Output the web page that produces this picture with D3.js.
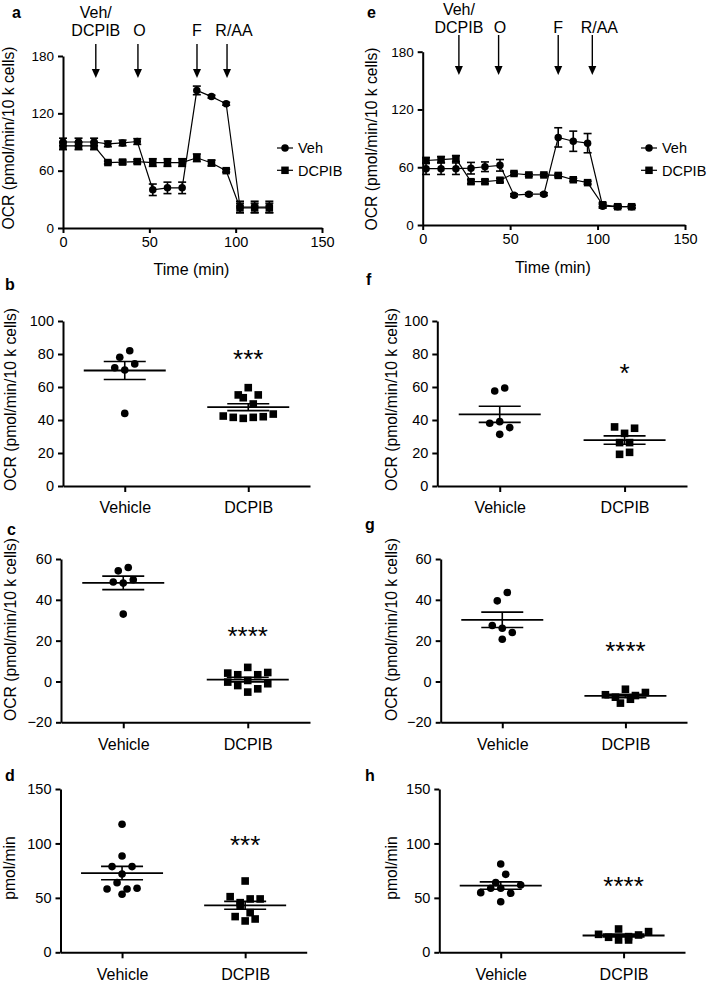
<!DOCTYPE html>
<html><head><meta charset="utf-8">
<script src="https://cdnjs.cloudflare.com/ajax/libs/d3/7.8.5/d3.min.js"></script>
<style>
body{margin:0;background:#fff;}
svg text{font-family:"Liberation Sans",Arial,Helvetica,sans-serif;fill:#000;}
</style></head>
<body><svg id="chart" width="709" height="986"></svg>
<script>
// ---------------- DATA ----------------
const timeTicks = [0, 50, 100, 150];
const ocrTicksTime = [0, 60, 120, 180];
const injLabels = [["Veh/", "DCPIB"], ["O"], ["F"], ["R/AA"]];
const seriesNames = ["Veh", "DCPIB"];

// panel a
const timeA = [0, 9, 18, 26, 34.5, 43, 52, 60.5, 69, 77.5, 86, 94.5, 102.5, 111, 119.5];
const vehA = [90, 90, 90, 88, 89, 90.5, 40, 42, 42, 144, 137.5, 130, 22, 22, 22];
const vehAErr = [4, 4, 4, 3, 3, 3, 6, 6, 6, 4.5, 1.5, 1.5, 6, 6, 6];
const dcpibA = [86, 86, 86, 68.5, 69, 69.5, 68.5, 68.5, 68.5, 73.5, 68, 60, 21, 21, 21];
const dcpibAErr = [4, 4, 4, 1.5, 2, 2, 4, 4, 4, 4, 3, 1.5, 5, 5, 5];
const injTimeA = [19, 43.4, 77.6, 95];

// panel e
const timeE = [1.9, 10.5, 19, 27.6, 35.6, 44.2, 52.2, 60.7, 69.3, 77.5, 86.1, 94.3, 102.9, 111.5, 119.5];
const vehE = [58.5, 58.5, 58.5, 59, 60.5, 62, 31, 32, 32, 91, 87, 85, 19.5, 19, 19];
const vehEErr = [6, 6, 6, 6, 5, 6, 1.5, 1.5, 1.5, 10, 10.5, 10, 2, 1.5, 1.5];
const dcpibE = [67, 68, 69, 45, 45, 46.5, 53.5, 52, 52, 51.5, 47, 44, 21, 19, 19];
const dcpibEErr = [3, 3, 3, 2, 2, 2, 1.5, 1.5, 1.5, 1.5, 1.5, 1.5, 2, 1.5, 1.5];
const injTimeE = [20.7, 43.4, 77.5, 97];

// scatter panels
const groups = ["Vehicle", "DCPIB"];
const ticksOCR100 = [0, 20, 40, 60, 80, 100];
const ticksOCR60 = [-20, 0, 20, 40, 60];
const ticksPmol = [0, 50, 100, 150];

const vehB = [71.7, 78, 70.3, 44, 82, 74];
const dcpibB = [42.4, 55.2, 41.6, 53.5, 41, 59.6, 49.7, 41.6, 55.2, 42, 43.6];
const sigB = "***", sigBAt = 80.4;

const vehF = [38, 57.6, 39, 31.3, 59.4, 35.4];
const dcpibF = [35.8, 26.3, 19.2, 31.9, 26.3, 20.4, 35];
const sigF = "*", sigFAt = 72.3;

const vehC = [48.7, 54.2, 48.2, 33, 55.8, 49.8];
const dcpibC = [4.1, -0.3, 3.3, -2, 6.9, 0.5, -5.2, 3.3, -3.6, 4.4, -1.1];
const sigC = "****", sigCAt = 25.3;

const vehG = [39.5, 27.4, 20.7, 43.6, 26.1, 24];
const dcpibG = [-6.5, -7.7, -10.6, -3.8, -8.7, -6.9, -5.4];
const sigG = "****", sigGAt = 18;

const vehD = [58.2, 78.7, 71.9, 53.3, 117.6, 88.5, 78.7, 64, 58.2, 58.8];
const dcpibD = [32.8, 51.1, 45.6, 28.8, 65.5, 49, 42.9, 30.6, 49, 36.4];
const sigD = "***", sigDAt = 104;

const vehH = [64, 54.8, 58.8, 81.1, 71.6, 46.5, 58.8, 54.2, 61.8];
const dcpibH = [16.5, 13.8, 11.3, 21.4, 11.3, 14.4, 15.9, 19];
const sigH = "****", sigHAt = 66.4;

// ---------------- DRAWING ----------------
const FS = 16;        // axis titles, category labels
const FS_NUM = 14.5;  // numeric tick labels
const FS_LEG = 14.5;  // legend
const svg = d3.select("#chart");

function styleAxis(fs) {
  return function(sel) {
    sel.attr("font-family", null).attr("font-size", null);
    sel.select(".domain").attr("stroke", "#000").attr("stroke-width", 2);
    sel.selectAll(".tick line").attr("stroke", "#000").attr("stroke-width", 2);
    sel.selectAll(".tick text").attr("font-size", fs).attr("fill", "#000");
  };
}

function marker(g, shape, cx, cy, size) {
  if (shape === "circle") {
    g.append("circle").attr("cx", cx).attr("cy", cy).attr("r", size / 2).attr("fill", "#000");
  } else {
    g.append("rect").attr("x", cx - size / 2).attr("y", cy - size / 2)
      .attr("width", size).attr("height", size).attr("fill", "#000");
  }
}

function panelLetter(t, x, y) {
  svg.append("text").attr("x", x).attr("y", y).attr("font-size", 16)
    .attr("font-weight", "bold").text(t);
}

function yLabel(t, bx, cy) {
  svg.append("text").attr("transform", `translate(${bx},${cy}) rotate(-90)`)
    .attr("text-anchor", "middle").attr("font-size", 15.7).text(t);
}

function drawTime(c) {
  const x = d3.scaleLinear().domain([0, 150]).range([c.x0, c.x1]);
  const y = d3.scaleLinear().domain([0, 180]).range([c.y0, c.y1]);
  const g = svg.append("g");
  g.append("g").attr("transform", `translate(0,${c.y0})`)
    .call(d3.axisBottom(x).tickValues(timeTicks).tickSize(5).tickPadding(4).tickSizeOuter(0))
    .call(styleAxis(FS_NUM));
  g.append("g").attr("transform", `translate(${c.x0},0)`)
    .call(d3.axisLeft(y).tickValues(ocrTicksTime).tickSize(5).tickPadding(4).tickSizeOuter(0))
    .call(styleAxis(13.5));
  const series = [
    {vals: c.dc, err: c.dcErr, shape: "square"},
    {vals: c.veh, err: c.vehErr, shape: "circle"}
  ];
  const line = d3.line().x((d, i) => x(c.time[i])).y(d => y(d));
  series.forEach(s => {
    g.append("path").attr("d", line(s.vals)).attr("fill", "none")
      .attr("stroke", "#000").attr("stroke-width", 1.2);
  });
  series.forEach(s => {
    s.vals.forEach((v, i) => {
      const cx = x(c.time[i]);
      const yt = y(v + s.err[i]), yb = y(v - s.err[i]);
      g.append("line").attr("x1", cx).attr("x2", cx).attr("y1", yt).attr("y2", yb)
        .attr("stroke", "#000").attr("stroke-width", 1.6);
      [yt, yb].forEach(yy => g.append("line").attr("x1", cx - 4).attr("x2", cx + 4)
        .attr("y1", yy).attr("y2", yy).attr("stroke", "#000").attr("stroke-width", 1.6));
      marker(g, s.shape, cx, y(v), 7.5);
    });
  });
  // injection arrows
  c.inj.forEach((t, i) => {
    const ax = x(t);
    g.append("line").attr("x1", ax).attr("x2", ax).attr("y1", c.arrTop).attr("y2", c.arrTip - 6)
      .attr("stroke", "#000").attr("stroke-width", 1.4);
    g.append("path").attr("d", `M${ax - 4},${c.arrTip - 9}L${ax + 4},${c.arrTip - 9}L${ax},${c.arrTip}Z`)
      .attr("fill", "#000");
    const lab = injLabels[i];
    const dx = lab[0] === "R/AA" ? 7 : (lab[0] === "O" ? 1.5 : 0);
    lab.forEach((l, k) => {
      const by = c.labBase - (lab.length - 1 - k) * 18.3;
      g.append("text").attr("x", ax + dx).attr("y", by).attr("text-anchor", "middle")
        .attr("font-size", FS).text(l);
    });
  });
  // legend
  seriesNames.forEach((n, i) => {
    const ly = c.legY + i * 22.3;
    g.append("line").attr("x1", c.legX).attr("x2", c.legX + 16).attr("y1", ly).attr("y2", ly)
      .attr("stroke", "#000").attr("stroke-width", 1.2);
    marker(g, i === 0 ? "circle" : "square", c.legX + 8, ly, 7.5);
    g.append("text").attr("x", c.legX + 21).attr("y", ly + 5.2).attr("font-size", FS_LEG).text(n);
  });
  g.append("text").attr("x", (c.x0 + c.x1) / 2 - 1).attr("y", c.xlabY)
    .attr("text-anchor", "middle").attr("font-size", FS).text("Time (min)");
}

// group points into horizontal rows (pixel-based), spread each row around the category centre
function layoutRows(vals, y, rowH, step) {
  const idx = vals.map((v, i) => i).sort((a, b) => vals[b] - vals[a]);
  const rows = [];
  let cur = null;
  idx.forEach(i => {
    if (cur && (y(vals[i]) - y(vals[cur[0]])) <= rowH) cur.push(i);
    else { cur = [i]; rows.push(cur); }
  });
  const off = new Array(vals.length).fill(0);
  rows.forEach(r => {
    r.sort((a, b) => a - b);
    r.forEach((i, k) => { off[i] = (k - (r.length - 1) / 2) * step; });
  });
  return off;
}

function drawScatter(c) {
  const x = d3.scalePoint().domain(groups).range([c.x0, c.x1]).padding(0.5);
  const y = d3.scaleLinear().domain(c.dom).range([c.y0, c.y1]);
  const g = svg.append("g");
  g.append("g").attr("transform", `translate(0,${c.y0})`)
    .call(d3.axisBottom(x).tickSize(6).tickPadding(10).tickSizeOuter(0))
    .call(styleAxis(FS));
  g.append("g").attr("transform", `translate(${c.x0},0)`)
    .call(d3.axisLeft(y).tickValues(c.ticks).tickSize(5).tickPadding(4).tickSizeOuter(0))
    .call(styleAxis(FS_NUM));
  [c.veh, c.dc].forEach((vals, gi) => {
    const cx = x(groups[gi]);
    const off = layoutRows(vals, y, 8.5, 10);
    vals.forEach((v, i) => marker(g, gi === 0 ? "circle" : "square", cx + off[i], y(v), 7.6));
    const m = d3.mean(vals);
    const sem = d3.deviation(vals) / Math.sqrt(vals.length);
    g.append("line").attr("x1", cx - 41).attr("x2", cx + 41).attr("y1", y(m)).attr("y2", y(m))
      .attr("stroke", "#000").attr("stroke-width", 1.8);
    [m + sem, m - sem].forEach(v => g.append("line").attr("x1", cx - 21).attr("x2", cx + 21)
      .attr("y1", y(v)).attr("y2", y(v)).attr("stroke", "#000").attr("stroke-width", 1.6));
    g.append("line").attr("x1", cx).attr("x2", cx).attr("y1", y(m + sem)).attr("y2", y(m - sem))
      .attr("stroke", "#000").attr("stroke-width", 1.6);
  });
  g.append("text").attr("x", x(groups[1])).attr("y", y(c.sigAt) + 0.57 * 26)
    .attr("text-anchor", "middle").attr("font-size", 26).text(c.sig);
}

// panel a & e
drawTime({x0: 63, x1: 322, y0: 228, y1: 56, time: timeA, veh: vehA, vehErr: vehAErr,
  dc: dcpibA, dcErr: dcpibAErr, inj: injTimeA, arrTop: 44, arrTip: 78, labBase: 36,
  legX: 277, legY: 148, xlabY: 275});
drawTime({x0: 422.7, x1: 685, y0: 225, y1: 51.7, time: timeE, veh: vehE, vehErr: vehEErr,
  dc: dcpibE, dcErr: dcpibEErr, inj: injTimeE, arrTop: 35, arrTip: 75, labBase: 33.3,
  legX: 641, legY: 148, xlabY: 272.5});

drawScatter({x0: 63, x1: 310, y0: 486, y1: 321, dom: [0, 100], ticks: ticksOCR100,
  veh: vehB, dc: dcpibB, sig: sigB, sigAt: sigBAt});
drawScatter({x0: 437.3, x1: 687, y0: 486, y1: 321, dom: [0, 100], ticks: ticksOCR100,
  veh: vehF, dc: dcpibF, sig: sigF, sigAt: sigFAt});
drawScatter({x0: 61, x1: 310, y0: 722.3, y1: 559, dom: [-20, 60], ticks: ticksOCR60,
  veh: vehC, dc: dcpibC, sig: sigC, sigAt: sigCAt});
drawScatter({x0: 440.7, x1: 687, y0: 722.3, y1: 559, dom: [-20, 60], ticks: ticksOCR60,
  veh: vehG, dc: dcpibG, sig: sigG, sigAt: sigGAt});
drawScatter({x0: 60.5, x1: 306.7, y0: 952.3, y1: 789, dom: [0, 150], ticks: ticksPmol,
  veh: vehD, dc: dcpibD, sig: sigD, sigAt: sigDAt});
drawScatter({x0: 439.3, x1: 685, y0: 952.3, y1: 789, dom: [0, 150], ticks: ticksPmol,
  veh: vehH, dc: dcpibH, sig: sigH, sigAt: sigHAt});

// labels
const ocrLabel = "OCR (pmol/min/10 k cells)";
yLabel(ocrLabel, 14, 138);
yLabel(ocrLabel, 377, 139);
yLabel(ocrLabel, 15.5, 399.5);
yLabel(ocrLabel, 397, 399.5);
yLabel(ocrLabel, 15.5, 629.5);
yLabel(ocrLabel, 397, 629.5);
yLabel("pmol/min", 14.5, 868);
yLabel("pmol/min", 396.5, 868);

panelLetter("a", 12, 18);
panelLetter("e", 367, 18);
panelLetter("b", 5, 290);
panelLetter("f", 366, 285);
panelLetter("c", 7, 535);
panelLetter("g", 365, 530);
panelLetter("d", 5, 781);
panelLetter("h", 365, 781);
</script>
</body></html>
